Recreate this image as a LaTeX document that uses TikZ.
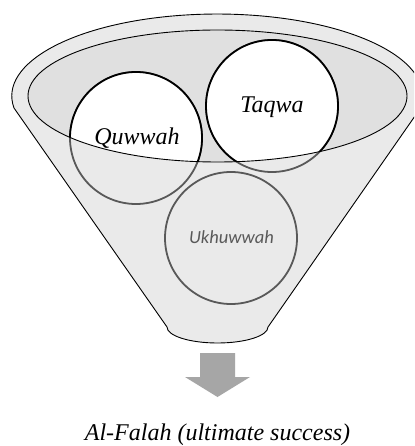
\documentclass[tikz,border=0pt]{standalone}
\usepackage{fontspec}
\setmainfont{Liberation Serif}
\newfontfamily\calib{Carlito}
\definecolor{funnelgray}{HTML}{EAEAEA}
\definecolor{mouthgray}{HTML}{E0E0E0}
\definecolor{ringgray}{HTML}{595959}
\definecolor{arrowgray}{HTML}{A6A6A6}
\tikzset{
  bigtext/.style={font=\fontsize{24}{28}\selectfont\itshape, inner sep=0pt, anchor=base},
  smalltext/.style={font=\calib\fontsize{18.5}{21}\selectfont\itshape, text=ringgray, inner sep=0pt, anchor=base},
  ballout/.style={draw=ringgray, line width=1.8pt},
  ballin/.style={draw=black, line width=1.8pt, fill=white},
}
\begin{document}
\begin{tikzpicture}[x=1pt,y=1pt]
\clip (0,0) rectangle (414,-446);
\fill[white] (0,0) rectangle (414,-446);
% funnel body
\draw[fill=funnelgray, line width=0.9pt, line join=round]
  (14,-108) arc[start angle=188.4, end angle=-8.4, x radius=205.5pt, y radius=82pt]
  -- (268,-327) arc[start angle=0, end angle=-180, x radius=50.5pt, y radius=16pt]
  -- cycle;
% mouth
\fill[mouthgray] (217.5,-96) ellipse[x radius=189.5pt, y radius=66pt];
% balls (outside parts)
\draw[ballout] (136,-138) circle[radius=66pt];
\draw[ballout] (272,-106) circle[radius=66pt];
\draw[ballout] (231,-238) circle[radius=66pt];
% balls inside mouth
\begin{scope}
  \clip (217.5,-96) ellipse[x radius=189.5pt, y radius=66pt];
  \draw[ballin] (136,-138) circle[radius=66pt];
  \draw[ballin] (272,-106) circle[radius=66pt];
\end{scope}
\draw[line width=0.9pt] (217.5,-96) ellipse[x radius=189.5pt, y radius=66pt];
% texts
\node[bigtext] (taqwa) at (272,-113) {Taqwa};
\node[bigtext] (quwwah) at (137,-145) {Quwwah};
\node[smalltext] (ukh) at (231.5,-243) {Ukhuwwah};
% arrow
\fill[arrowgray] (200,-353) -- (235,-353) -- (235,-377) -- (250,-377) -- (217.5,-397)
  -- (185,-377) -- (200,-377) -- cycle;
\node[bigtext] (falah) at (217.5,-440) {Al-Falah (ultimate success)};
\end{tikzpicture}
\end{document}
